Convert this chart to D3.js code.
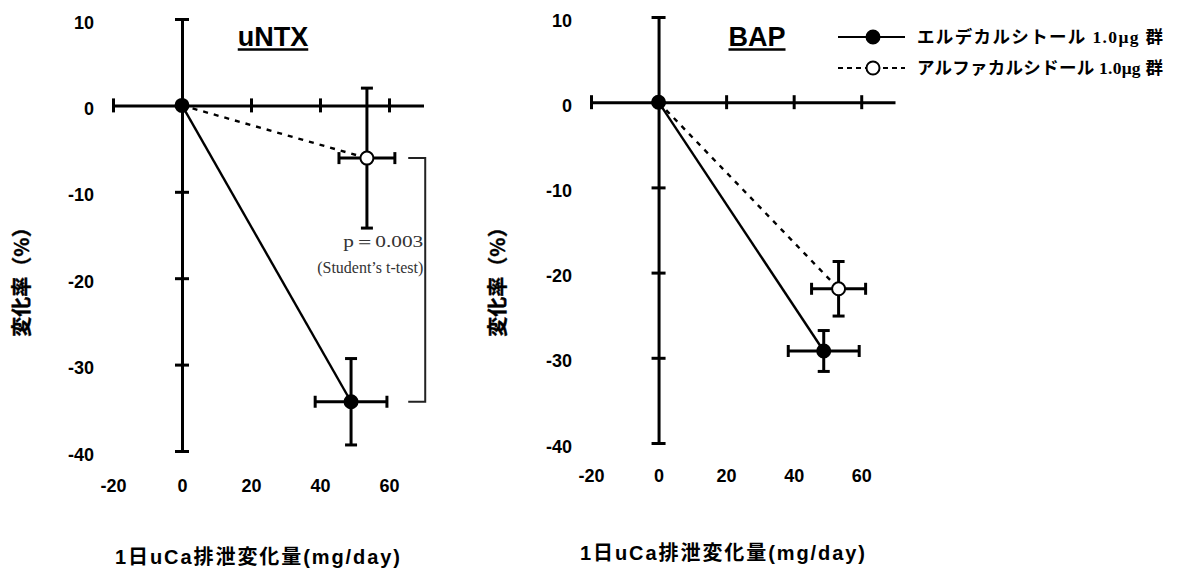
<!DOCTYPE html>
<html>
<head>
<meta charset="utf-8">
<script src="https://cdn.jsdelivr.net/npm/d3@7"></script>
<style>
  body { margin: 0; background: #fff; }
  svg { display: block; }
  .tl text { font-family: "Liberation Sans", Arial, sans-serif; font-weight: bold; font-size: 18px; fill: #000; }
</style>
</head>
<body>
<div id="chart"></div>
<script>
// series names (legend)
const groups = ['エルデカルシトール 1.0μg 群', 'アルファカルシドール 1.0μg 群'];
const xTicks = [-20, 0, 20, 40, 60];
const yTicks = [10, 0, -10, -20, -30, -40];

// uNTX panel: change in uCa (x) vs % change (y), first point is the origin
const untxEldX = [0, 49.0], untxEldY = [0, -34.3], untxEldXErr = [0, 10.4], untxEldYErr = [0, 5.0];
const untxAlfX = [0, 53.6], untxAlfY = [0, -6.1], untxAlfXErr = [0, 8.1], untxAlfYErr = [0, 8.1];

// BAP panel
const bapEldX = [0, 48.9], bapEldY = [0, -29.2], bapEldXErr = [0, 10.5], bapEldYErr = [0, 2.4];
const bapAlfX = [0, 53.3], bapAlfY = [0, -21.9], bapAlfXErr = [0, 8.0], bapAlfYErr = [0, 3.2];

const pValue = 'p＝0.003';
const testName = '(Student’s t-test)';

const svg = d3.select('#chart').append('svg')
  .attr('width', 1198)
  .attr('height', 568);

const panels = [
  {
    title: 'uNTX', xr: [113, 423.5], yr: [19, 451], yLabelX: 94, xLabelY: 486,
    yTitleX: 22, xTitleY: 557, xTitleL: 115, titleX: 273,
    series: [
      { x: untxEldX, y: untxEldY, xe: untxEldXErr, ye: untxEldYErr, filled: true },
      { x: untxAlfX, y: untxAlfY, xe: untxAlfXErr, ye: untxAlfYErr, filled: false },
    ],
  },
  {
    title: 'BAP', xr: [591, 895], yr: [17, 443], yLabelX: 572, xLabelY: 476,
    yTitleX: 498, xTitleY: 553, xTitleL: 580, titleX: 757,
    series: [
      { x: bapEldX, y: bapEldY, xe: bapEldXErr, ye: bapEldYErr, filled: true },
      { x: bapAlfX, y: bapAlfY, xe: bapAlfXErr, ye: bapAlfYErr, filled: false },
    ],
  },
];

panels.forEach((p, pi) => {
  const x = d3.scaleLinear().domain([-20, 70]).range(p.xr);
  const y = d3.scaleLinear().domain([10, -40]).range(p.yr);
  const g = svg.append('g');

  // axes crossing at origin
  const xa = g.append('g')
    .attr('transform', `translate(0,${y(0)})`)
    .call(d3.axisBottom(x).tickValues(xTicks).tickFormat('').tickSizeOuter(0));
  const ya = g.append('g')
    .attr('transform', `translate(${x(0)},0)`)
    .call(d3.axisLeft(y).tickValues(yTicks).tickFormat('').tickSizeOuter(0));
  xa.selectAll('.tick line').attr('y1', -7).attr('y2', 7);
  ya.selectAll('.tick line').attr('x1', -7).attr('x2', 7);
  [xa, ya].forEach(a => {
    a.selectAll('path, line').attr('stroke', '#000').attr('stroke-width', 3);
  });

  // tick labels sit away from the axes (plain hyphen minus like the original)
  const fmt = d => String(d);
  const xl = g.append('g').attr('class', 'tl')
    .attr('transform', `translate(0,${p.xLabelY})`)
    .call(d3.axisBottom(x).tickValues(xTicks).tickFormat(fmt).tickSize(0));
  xl.select('.domain').remove();
  xl.selectAll('text').attr('y', 0).attr('dy', '0.36em');
  const yl = g.append('g').attr('class', 'tl')
    .attr('transform', `translate(${p.yLabelX},0)`)
    .call(d3.axisLeft(y).tickValues(yTicks).tickFormat(fmt).tickSize(0).tickPadding(0));
  yl.select('.domain').remove();
  yl.selectAll('text').attr('dy', '0.5em');

  // panel title, underlined
  const t = g.append('text')
    .attr('x', p.titleX).attr('y', 46)
    .attr('text-anchor', 'middle')
    .style('font-family', '"Liberation Sans", Arial, sans-serif')
    .style('font-weight', 'bold').style('font-size', '27px')
    .text(p.title);
  const tw = t.node().getComputedTextLength();
  g.append('line')
    .attr('x1', p.titleX - tw / 2).attr('x2', p.titleX + tw / 2)
    .attr('y1', 49.5).attr('y2', 49.5)
    .attr('stroke', '#000').attr('stroke-width', 2.5);

  // axis titles
  g.append('text')
    .attr('transform', `translate(${p.yTitleX},277) rotate(-90)`)
    .attr('text-anchor', 'middle').attr('dy', '0.35em')
    .style('font-family', '"Noto Sans CJK JP", sans-serif')
    .style('font-weight', 'bold').style('font-size', '20px')
    .attr('stroke', '#000').attr('stroke-width', 0.4)
    .text('変化率（%）');
  g.append('text')
    .attr('x', p.xTitleL).attr('y', p.xTitleY).attr('dy', '0.35em')
    .attr('textLength', 285).attr('lengthAdjust', 'spacing')
    .style('font-family', '"Liberation Sans", "Noto Sans CJK JP", sans-serif')
    .style('font-weight', 'bold').style('font-size', '20px')
    .text('1日uCa排泄変化量(mg/day)');

  // series: line from origin, error bars, markers
  p.series.forEach(s => {
    const pts = s.x.map((v, i) => ({ x: v, y: s.y[i], xe: s.xe[i], ye: s.ye[i] }));
    g.append('path')
      .datum(pts)
      .attr('fill', 'none')
      .attr('stroke', '#000')
      .attr('stroke-width', 2.4)
      .attr('stroke-dasharray', s.filled ? null : '5,6')
      .attr('d', d3.line().x(d => x(d.x)).y(d => y(d.y)));

    const eb = pts.filter(d => d.xe > 0 || d.ye > 0);
    const cap = 6;
    eb.forEach(d => {
      const cx = x(d.x), cy = y(d.y);
      const x0 = x(d.x - d.xe), x1 = x(d.x + d.xe);
      const y0 = y(d.y + d.ye), y1 = y(d.y - d.ye);
      const segs = [
        [x0, cy, x1, cy], [x0, cy - cap, x0, cy + cap], [x1, cy - cap, x1, cy + cap],
        [cx, y0, cx, y1], [cx - cap, y0, cx + cap, y0], [cx - cap, y1, cx + cap, y1],
      ];
      g.selectAll(null).data(segs).enter().append('line')
        .attr('x1', v => v[0]).attr('y1', v => v[1])
        .attr('x2', v => v[2]).attr('y2', v => v[3])
        .attr('stroke', '#000').attr('stroke-width', 3);
    });

    g.selectAll(null).data(s.filled ? pts : pts.slice(1)).enter().append('circle')
      .attr('cx', d => x(d.x)).attr('cy', d => y(d.y))
      .attr('r', 6.5)
      .attr('fill', s.filled ? '#000' : '#fff')
      .attr('stroke', '#000').attr('stroke-width', 2);
  });

  // significance bracket on the uNTX panel
  if (pi === 0) {
    const a = p.series[1], b = p.series[0];
    const ya1 = y(a.y[1]), yb1 = y(b.y[1]);
    const bx = x(70.5);
    g.append('path')
      .attr('fill', 'none').attr('stroke', '#222').attr('stroke-width', 2)
      .attr('d', `M${bx - 17},${ya1}H${bx}V${yb1}H${bx - 17}`);
    g.append('text')
      .attr('x', bx - 2).attr('y', 241).attr('dy', '0.35em')
      .attr('text-anchor', 'end')
      .attr('textLength', 80).attr('lengthAdjust', 'spacingAndGlyphs')
      .style('font-family', '"Liberation Serif", serif').style('font-size', '17px')
      .attr('fill', '#333')
      .text(pValue);
    g.append('text')
      .attr('x', bx - 2).attr('y', 267).attr('dy', '0.35em')
      .attr('text-anchor', 'end')
      .attr('textLength', 106).attr('lengthAdjust', 'spacingAndGlyphs')
      .style('font-family', '"Liberation Serif", serif').style('font-size', '16px')
      .attr('fill', '#333')
      .text(testName);
  }
});

// legend
const legendY = [37, 68];
const leg = svg.append('g');
groups.forEach((name, i) => {
  const row = leg.append('g').attr('transform', `translate(0,${legendY[i]})`);
  row.append('line')
    .attr('x1', 838).attr('x2', 905)
    .attr('stroke', '#000').attr('stroke-width', 2)
    .attr('stroke-dasharray', i === 0 ? null : '5,4');
  row.append('circle')
    .attr('cx', 873).attr('r', 6.5)
    .attr('fill', i === 0 ? '#000' : '#fff')
    .attr('stroke', '#000').attr('stroke-width', 2);
  row.append('text')
    .attr('x', 917).attr('dy', '0.35em')
    .attr('textLength', 246).attr('lengthAdjust', 'spacing')
    .style('font-family', '"Liberation Serif", "Noto Sans CJK JP", serif')
    .style('font-weight', 'bold').style('font-size', '17.5px')
    .text(name);
});
</script>
</body>
</html>
